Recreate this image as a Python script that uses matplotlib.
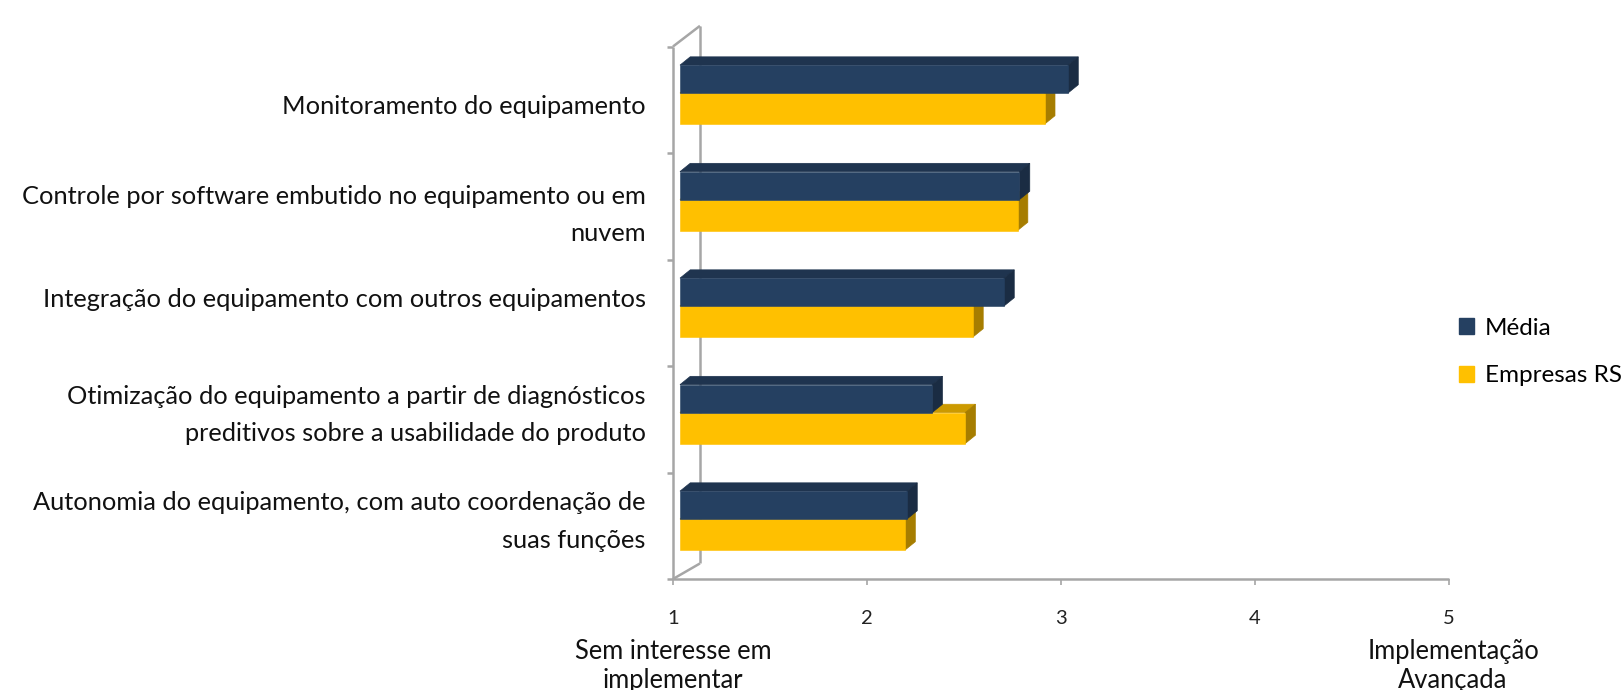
import matplotlib.pyplot as plt
from matplotlib.patches import Polygon, Patch

plt.rcParams['font.family'] = ['Lato', 'DejaVu Sans']

# data
categories = ["Monitoramento do equipamento",
              "Controle por software embutido no equipamento ou em\nnuvem",
              "Integração do equipamento com outros equipamentos",
              "Otimização do equipamento a partir de diagnósticos\npreditivos sobre a usabilidade do produto",
              "Autonomia do equipamento, com auto coordenação de\nsuas funções"]
series_names = ["Média", "Empresas RS"]
media = [3.00, 2.75, 2.67, 2.30, 2.17]
empresas = [2.88, 2.74, 2.51, 2.47, 2.16]
xticks = [1, 2, 3, 4, 5]
xlabel_low = "Sem interesse em\nimplementar"
xlabel_high = "Implementação\nAvançada"

# colours (front, top, side)
navy = ("#254061", "#1F344F", "#1A2C43")
gold = ("#FFC000", "#CC9A00", "#A67D00")
grey = "#A6A6A6"

fig = plt.figure(figsize=(16.21, 6.90), dpi=100)
ax = fig.add_axes([673 / 1621, 111 / 690, 776 / 1621, 532.5 / 690])
ax.set_xlim(1, 5)
ax.set_ylim(4.5, -0.5)
for s in ax.spines.values():
    s.set_visible(False)
ax.set_yticks([])
ax.set_xticks(xticks)
ax.set_xticklabels([str(t) for t in xticks])
ax.tick_params(axis='x', length=4, width=1.2, color=grey, labelsize=14.5, pad=18, labelcolor="#222222")

# 3d depth in data units
shift = 0.036
ddx = 0.053
ddy = 0.078
back = 1.139
wall_dy = 0.194

# walls
kw = dict(color=grey, lw=1.8, clip_on=False, solid_capstyle='butt')
ax.plot([1, 5], [4.5, 4.5], **kw)
ax.plot([1, 1], [-0.5, 4.5], **kw)
ax.plot([back, back], [-0.5 - wall_dy, 4.5 - 0.146], **kw)
ax.plot([1, back], [-0.5, -0.5 - wall_dy], **kw)
ax.plot([1, back], [4.5, 4.5 - 0.146], **kw)
for k in range(6):
    ax.plot([1 - 0.032, 1], [k - 0.5, k - 0.5], **kw)


def bar3d(y0, y1, v, cols):
    x0 = 1 + shift
    x1 = v + shift
    top = Polygon([(x0, y0), (x0 + ddx, y0 - ddy), (x1 + ddx, y0 - ddy), (x1, y0)],
                  closed=True, fc=cols[1], ec=cols[1], lw=0.5, zorder=3)
    side = Polygon([(x1, y0), (x1 + ddx, y0 - ddy), (x1 + ddx, y1 - ddy), (x1, y1)],
                   closed=True, fc=cols[2], ec=cols[2], lw=0.5, zorder=3)
    ax.add_patch(top)
    ax.add_patch(side)
    ax.barh((y0 + y1) / 2, x1 - x0, height=y1 - y0, left=x0, color=cols[0],
            ec=cols[0], lw=0.4, zorder=4)


for i in range(len(categories)):
    bar3d(i - 0.063, i + 0.228, empresas[i], gold)
    bar3d(i - 0.325, i - 0.063, media[i], navy)

# category labels
label_y = [0.064, 0.085, -0.12, -0.04, -0.04]
for i, lab in enumerate(categories):
    ax.text(0.86, i + label_y[i], lab, ha='right', va='center', fontsize=18.3,
            color="#111111", linespacing=1.75, multialignment='right')

fig.text(673 / 1621, 51 / 690, xlabel_low, ha='center', va='top', fontsize=18.4,
         color="#111111", linespacing=1.2)
fig.text(1453 / 1621, 51 / 690, xlabel_high, ha='center', va='top', fontsize=18.4,
         color="#111111", linespacing=1.2)

handles = [Patch(color=navy[0]), Patch(color=gold[0])]
fig.legend(handles, series_names, loc='center left',
           bbox_to_anchor=(1459 / 1621, (690 - 352) / 690), frameon=False, fontsize=17.5,
           handlelength=0.6, handleheight=0.6, handletextpad=0.45, labelspacing=1.1,
           borderpad=0, borderaxespad=0)

fig.savefig("out.png", dpi=100)
